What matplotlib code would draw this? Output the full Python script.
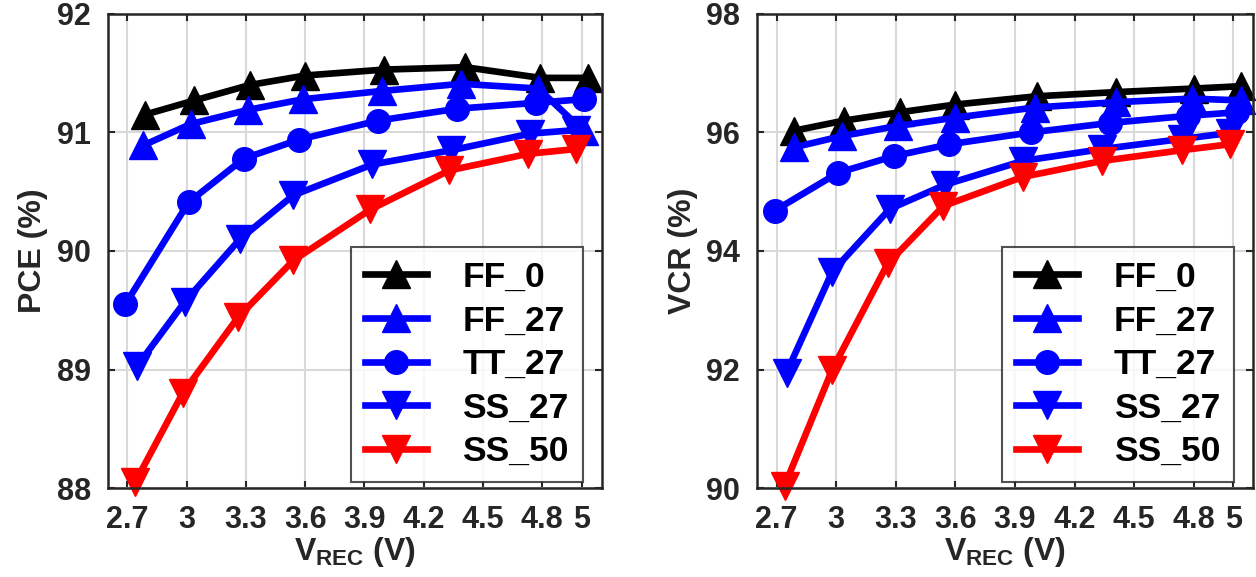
import matplotlib
matplotlib.use("Agg")
import matplotlib.pyplot as plt

plt.rcParams['font.family'] = ['Liberation Sans', 'DejaVu Sans']
plt.rcParams['font.weight'] = 'bold'
plt.rcParams['mathtext.default'] = 'regular'

labels = ["FF_0", "FF_27", "TT_27", "SS_27", "SS_50"]
colors = ["black", "blue", "blue", "blue", "red"]
markers = ["^", "^", "o", "v", "v"]

# PCE (%) vs V_REC, one x/y pair per corner
pce_x = {
    "FF_0":  [2.79, 3.04, 3.32, 3.60, 4.00, 4.41, 4.79, 5.03],
    "FF_27": [2.78, 3.02, 3.31, 3.59, 3.99, 4.39, 4.78, 5.01],
    "TT_27": [2.69, 3.01, 3.29, 3.57, 3.97, 4.37, 4.77, 5.01],
    "SS_27": [2.75, 2.99, 3.27, 3.54, 3.94, 4.34, 4.74, 4.97],
    "SS_50": [2.74, 2.98, 3.26, 3.54, 3.93, 4.33, 4.73, 4.97],
}
pce_y = {
    "FF_0":  [91.15, 91.27, 91.40, 91.48, 91.53, 91.55, 91.46, 91.46],
    "FF_27": [90.89, 91.07, 91.19, 91.28, 91.35, 91.41, 91.37, 91.01],
    "TT_27": [89.55, 90.41, 90.78, 90.94, 91.10, 91.20, 91.25, 91.28],
    "SS_27": [89.03, 89.57, 90.10, 90.47, 90.73, 90.85, 90.99, 91.02],
    "SS_50": [88.05, 88.80, 89.44, 89.92, 90.35, 90.68, 90.82, 90.86],
}

# VCR (%) vs V_REC
vcr_x = {
    "FF_0":  [2.79, 3.04, 3.32, 3.60, 4.01, 4.41, 4.80, 5.04],
    "FF_27": [2.79, 3.03, 3.31, 3.60, 4.00, 4.41, 4.79, 5.04],
    "TT_27": [2.69, 3.01, 3.29, 3.57, 3.98, 4.38, 4.77, 5.02],
    "SS_27": [2.75, 2.98, 3.27, 3.55, 3.94, 4.34, 4.74, 4.98],
    "SS_50": [2.74, 2.98, 3.26, 3.54, 3.94, 4.34, 4.74, 4.98],
}
vcr_y = {
    "FF_0":  [96.03, 96.20, 96.34, 96.47, 96.61, 96.68, 96.74, 96.78],
    "FF_27": [95.75, 95.94, 96.11, 96.25, 96.42, 96.51, 96.57, 96.54],
    "TT_27": [94.68, 95.32, 95.60, 95.80, 96.00, 96.16, 96.28, 96.34],
    "SS_27": [91.95, 93.65, 94.71, 95.12, 95.52, 95.72, 95.89, 95.99],
    "SS_50": [90.04, 92.00, 93.79, 94.76, 95.25, 95.52, 95.70, 95.80],
}

x_ticks = [2.7, 3, 3.3, 3.6, 3.9, 4.2, 4.5, 4.8, 5]
x_ticklabels = ["2.7", "3", "3.3", "3.6", "3.9", "4.2", "4.5", "4.8", "5"]
pce_ticks = [88, 89, 90, 91, 92]
vcr_ticks = [90, 92, 94, 96, 98]

fig = plt.figure(figsize=(12.56, 5.77), dpi=100)
ax1 = fig.add_axes([0.0856, 0.154, 0.3934, 0.822])
ax2 = fig.add_axes([0.6025, 0.154, 0.3954, 0.822])

panels = [
    (ax1, pce_x, pce_y, pce_ticks, "PCE (%)"),
    (ax2, vcr_x, vcr_y, vcr_ticks, "VCR (%)"),
]

for ax, xs, ys, yticks, ylab in panels:
    for lab, c, m in zip(labels, colors, markers):
        ms = 17 if m == "o" else 20
        ax.plot(xs[lab], ys[lab], color=c, marker=m, markersize=ms,
                linewidth=4.8, markeredgecolor=c, label=lab, clip_on=False)

    ax.set_xlim(2.6, 5.1)
    ax.set_ylim(yticks[0], yticks[-1])
    ax.set_xticks(x_ticks)
    ax.set_xticklabels(x_ticklabels)
    ax.set_yticks(yticks)
    ax.grid(True, color="#d9d9d9", linewidth=1.5)
    ax.set_axisbelow(True)
    ax.tick_params(direction="in", top=True, right=True, length=5, width=1.5,
                   labelsize=22, colors="#262626", pad=12)
    for sp in ax.spines.values():
        sp.set_linewidth(1.8)
        sp.set_color("#262626")

    ax.set_ylabel(ylab, fontsize=23, fontweight="bold", labelpad=6, color="#262626")
    ax.set_xlabel(r"V$_{REC}$ (V)", fontsize=23, fontweight="bold", labelpad=0,
                  color="#262626")

    leg = ax.legend(loc="lower right", bbox_to_anchor=(0.962, 0.012), fontsize=25.5,
                    frameon=True, fancybox=False, edgecolor="#262626",
                    handlelength=1.75, handletextpad=1.0, labelspacing=0.3,
                    borderpad=0.4, borderaxespad=0)
    leg.get_frame().set_linewidth(1.5)
    for t in leg.get_texts():
        t.set_fontweight("bold")

fig.savefig("out.png", dpi=100)
